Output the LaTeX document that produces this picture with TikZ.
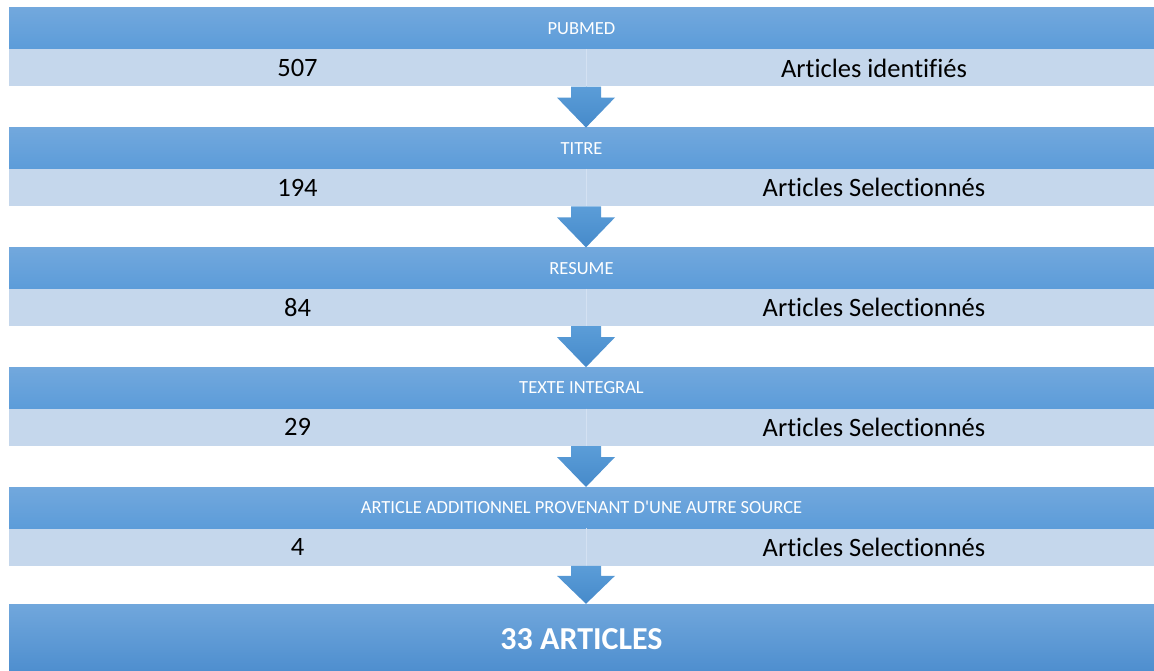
\documentclass[tikz,border=0pt]{standalone}
\usepackage{fontspec}
\setmainfont{Carlito}
\newfontfamily\calfont[Ligatures={NoCommon}]{Carlito}
\usetikzlibrary{positioning,calc}
\definecolor{hdtop}{RGB}{114,168,221}
\definecolor{hdbot}{RGB}{92,156,217}
\definecolor{rowblue}{RGB}{197,215,236}
\definecolor{rowline}{RGB}{212,225,242}
\definecolor{artop}{RGB}{91,157,216}
\definecolor{arbot}{RGB}{70,138,202}
\definecolor{fintop}{RGB}{113,167,220}
\definecolor{finmid}{RGB}{91,157,219}
\definecolor{finbot}{RGB}{76,141,206}
\tikzset{
    %Define style for the dark header bars
    stage/.style={
           rectangle,
           minimum width=1145pt,
           minimum height=41pt,
           inner sep=0pt,
           top color=hdtop, bottom color=hdbot,
           text=white,
           font=\calfont\fontsize{18.5}{20}\selectfont},
    %Define style for the light count rows
    countrow/.style={
           rectangle,
           minimum width=1145pt,
           minimum height=37pt,
           inner sep=0pt,
           fill=rowblue},
    txt/.style={
           inner sep=0pt,
           font=\calfont\fontsize{26.5}{28}\selectfont},
    %Define style for the final box
    final/.style={
           rectangle,
           minimum width=1145pt,
           minimum height=71pt,
           inner sep=0pt,
           top color=fintop, middle color=finmid, bottom color=finbot,
           text=white,
           font=\calfont\fontsize{32}{34}\selectfont\bfseries},
    % Define arrow style
    pil/.style={
           top color=artop, bottom color=arbot},
    divider/.style={draw=rowline, line width=1pt}
}
\begin{document}
\begin{tikzpicture}[x=1pt, y=1pt]
\useasboundingbox (0,0) rectangle (1154,-671);

\coordinate (mid) at (586,0);
\coordinate (numcol) at (297.5,0);
\coordinate (labcol) at (874,0);

%pubmed
\node[stage] (h1) at (581.5,-28.5) {PUBMED};
\node[countrow, below=0pt of h1] (r1) {};
%titre
\node[stage, below=41pt of r1] (h2) {TITRE};
\node[countrow, below=0pt of h2] (r2) {};
%resume
\node[stage, below=41pt of r2] (h3) {RESUME};
\node[countrow, below=0pt of h3] (r3) {};
%texte integral
\node[stage, below=41pt of r3] (h4) {TEXTE INTEGRAL};
\node[countrow, below=0pt of h4] (r4) {};
%additional source
\node[stage, below=41pt of r4] (h5) {ARTICLE ADDITIONNEL PROVENANT D'UNE AUTRE SOURCE};
\node[countrow, below=0pt of h5] (r5) {};
%result
\node[final, below=38pt of r5] (res) {33 ARTICLES};

% cell dividers
\draw[divider] (r1.north -| mid) -- (r1.south -| mid);
\draw[divider] (r2.north -| mid) -- (r2.south -| mid);
\draw[divider] (r3.north -| mid) -- (r3.south -| mid);
\draw[divider] (r4.north -| mid) -- (r4.south -| mid);
\draw[divider] (r5.north -| mid) -- (r5.south -| mid);

% counts and labels
\node[txt] (n1) at (r1.center -| numcol) {507};
\node[txt] (l1) at (r1.center -| labcol) {Articles identifiés};
\node[txt] (n2) at (r2.center -| numcol) {194};
\node[txt] (l2) at (r2.center -| labcol) {Articles Selectionnés};
\node[txt] (n3) at (r3.center -| numcol) {84};
\node[txt] (l3) at (r3.center -| labcol) {Articles Selectionnés};
\node[txt] (n4) at (r4.center -| numcol) {29};
\node[txt] (l4) at (r4.center -| labcol) {Articles Selectionnés};
\node[txt] (n5) at (r5.center -| numcol) {4};
\node[txt] (l5) at (r5.center -| labcol) {Articles Selectionnés};

% block arrows between stages
\path[pil] ($(r1.south -| mid)+(-15,0)$) -- ++(30,0) -- ++(0,-11) -- ++(14,0)
  -- (h2.north -| mid) -- ($(r1.south -| mid)+(-29,-11)$) -- ++(14,0) -- cycle;
\path[pil] ($(r2.south -| mid)+(-15,0)$) -- ++(30,0) -- ++(0,-11) -- ++(14,0)
  -- (h3.north -| mid) -- ($(r2.south -| mid)+(-29,-11)$) -- ++(14,0) -- cycle;
\path[pil] ($(r3.south -| mid)+(-15,0)$) -- ++(30,0) -- ++(0,-11) -- ++(14,0)
  -- (h4.north -| mid) -- ($(r3.south -| mid)+(-29,-11)$) -- ++(14,0) -- cycle;
\path[pil] ($(r4.south -| mid)+(-15,0)$) -- ++(30,0) -- ++(0,-11) -- ++(14,0)
  -- (h5.north -| mid) -- ($(r4.south -| mid)+(-29,-11)$) -- ++(14,0) -- cycle;
\path[pil] ($(r5.south -| mid)+(-15,0)$) -- ++(30,0) -- ++(0,-10) -- ++(14,0)
  -- (res.north -| mid) -- ($(r5.south -| mid)+(-29,-10)$) -- ++(14,0) -- cycle;

\end{tikzpicture}
\end{document}
